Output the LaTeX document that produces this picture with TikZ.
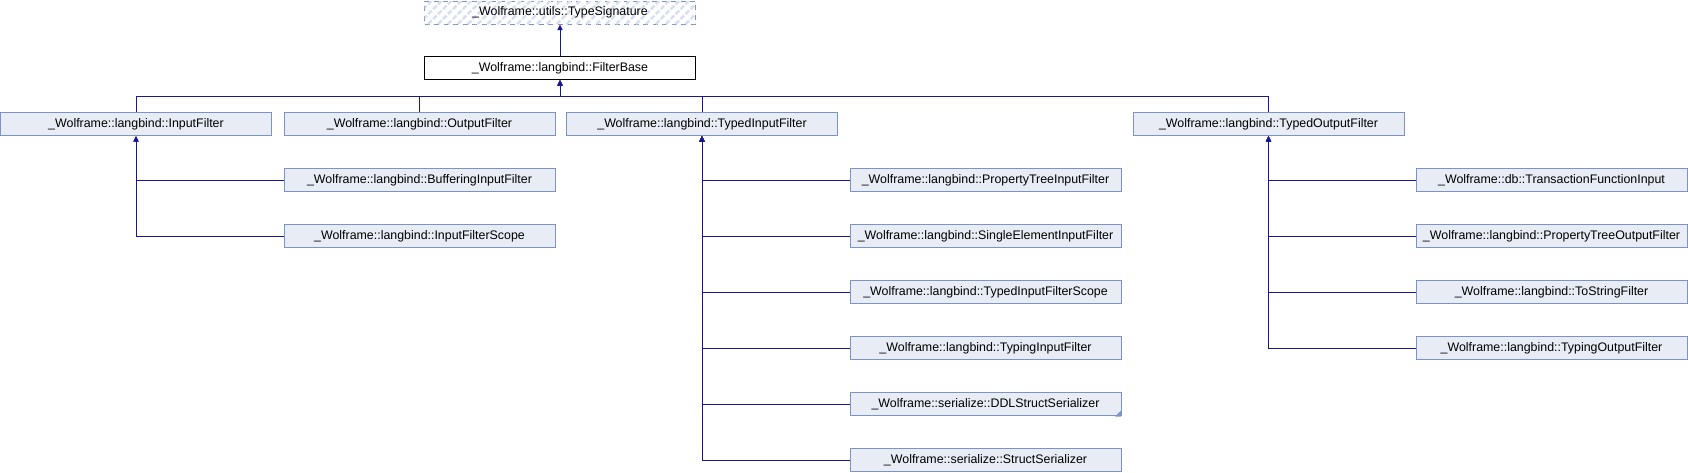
\documentclass[tikz,border=0pt]{standalone}
\usepackage{fontspec}
\setmainfont{Liberation Sans}
\usetikzlibrary{arrows.meta,patterns.meta}
\definecolor{boxfill}{RGB}{232,236,245}
\definecolor{boxdraw}{RGB}{124,146,200}
\definecolor{edgecol}{RGB}{22,22,150}
\definecolor{hatchcol}{RGB}{214,222,239}
\tikzset{
  cls/.style={draw=boxdraw, fill=boxfill, line width=1pt, minimum width=271pt, minimum height=23pt, inner sep=0pt, font=\fontsize{12.4}{14}\selectfont},
  mainbox/.style={cls, draw=black, fill=white},
  extbox/.style={cls, fill=white, dash pattern=on 5pt off 4.5pt, postaction={pattern={Lines[angle=45,distance=7pt,line width=2.4pt]}, pattern color=hatchcol}},
  edge/.style={draw=edgecol, line width=0.95pt, -{Triangle[length=5.5pt,width=5pt]}}
}
\begin{document}
\begin{tikzpicture}[x=1pt,y=-1pt]
\useasboundingbox (0,0) rectangle (1688,472);
% top
\node[extbox] (ts) at (560,12.5) {\_Wolframe::utils::TypeSignature};
\node[mainbox] (fb) at (560,68) {\_Wolframe::langbind::FilterBase};
% row 1
\node[cls] (inf) at (136,124) {\_Wolframe::langbind::InputFilter};
\node[cls] (outf) at (419.5,124) {\_Wolframe::langbind::OutputFilter};
\node[cls] (tif) at (702,124) {\_Wolframe::langbind::TypedInputFilter};
\node[cls] (tof) at (1268.5,124) {\_Wolframe::langbind::TypedOutputFilter};
% InputFilter children
\node[cls] (bif) at (419.5,180) {\_Wolframe::langbind::BufferingInputFilter};
\node[cls] (ifs) at (419.5,236) {\_Wolframe::langbind::InputFilterScope};
% TypedInputFilter children
\node[cls] (ptif) at (985.5,180) {\_Wolframe::langbind::PropertyTreeInputFilter};
\node[cls] (seif) at (985.5,236) {\_Wolframe::langbind::SingleElementInputFilter};
\node[cls] (tifs) at (985.5,292) {\_Wolframe::langbind::TypedInputFilterScope};
\node[cls] (typif) at (985.5,348) {\_Wolframe::langbind::TypingInputFilter};
\node[cls] (ddl) at (985.5,404) {\_Wolframe::serialize::DDLStructSerializer};
\node[cls] (ss) at (985.5,460) {\_Wolframe::serialize::StructSerializer};
% TypedOutputFilter children
\node[cls] (tfi) at (1551.5,180) {\_Wolframe::db::TransactionFunctionInput};
\node[cls] (ptof) at (1551.5,236) {\_Wolframe::langbind::PropertyTreeOutputFilter};
\node[cls] (tsf) at (1551.5,292) {\_Wolframe::langbind::ToStringFilter};
\node[cls] (typof) at (1551.5,348) {\_Wolframe::langbind::TypingOutputFilter};
% truncated marker
\fill[boxdraw] ([xshift=-0.5pt,yshift=-0.5pt]ddl.south east) -- ++(-6,0) -- ++(6,-6) -- cycle;
% edges
\draw[edge] (fb.north) -- (ts.south);
\coordinate (bus) at (560,96);
\draw[edge] (inf.north) |- (bus) -- (fb.south);
\draw[edge] (outf.north) |- (bus) -- (fb.south);
\draw[edge] (tif.north) |- (bus) -- (fb.south);
\draw[edge] (tof.north) |- (bus) -- (fb.south);
\draw[edge] (bif.west) -| (inf.south);
\draw[edge] (ifs.west) -| (inf.south);
\draw[edge] (ptif.west) -| (tif.south);
\draw[edge] (seif.west) -| (tif.south);
\draw[edge] (tifs.west) -| (tif.south);
\draw[edge] (typif.west) -| (tif.south);
\draw[edge] (ddl.west) -| (tif.south);
\draw[edge] (ss.west) -| (tif.south);
\draw[edge] (tfi.west) -| (tof.south);
\draw[edge] (ptof.west) -| (tof.south);
\draw[edge] (tsf.west) -| (tof.south);
\draw[edge] (typof.west) -| (tof.south);
\end{tikzpicture}
\end{document}
